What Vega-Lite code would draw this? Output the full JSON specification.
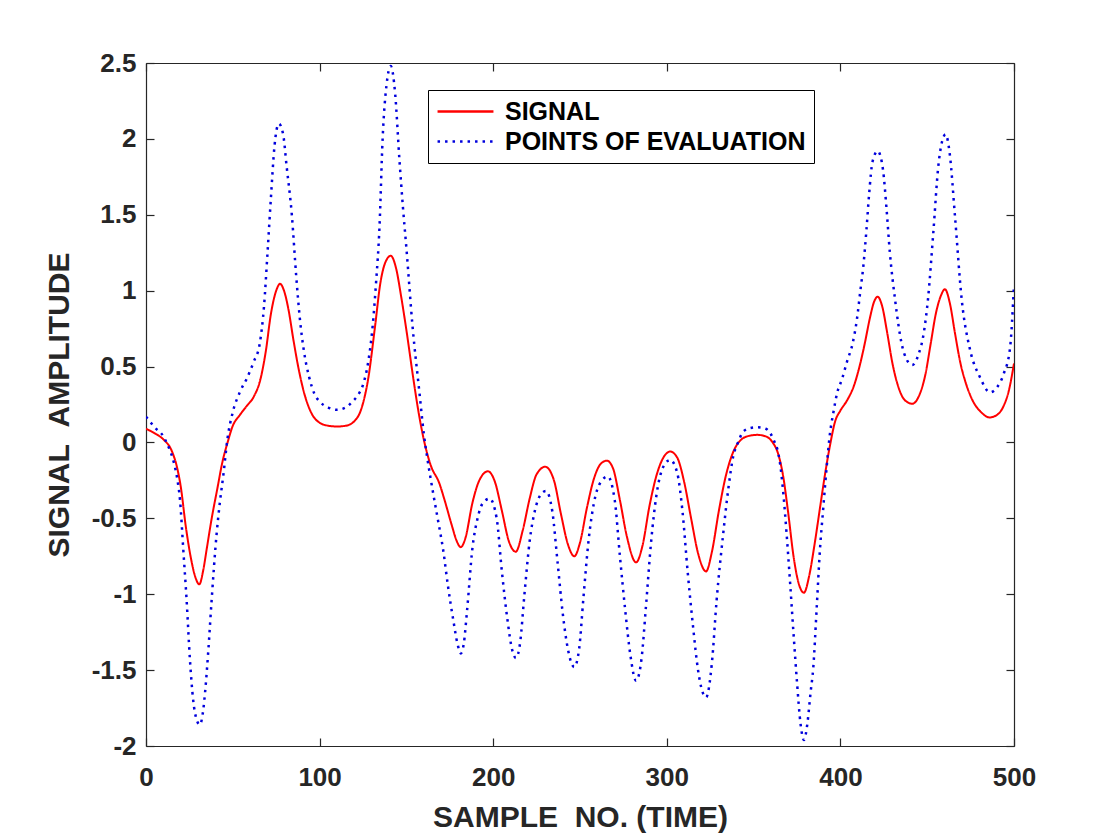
{
  "$schema": "https://vega.github.io/schema/vega-lite/v6.json",
  "width": 868,
  "height": 683,
  "autosize": {"type": "none"},
  "padding": {"left": 146, "top": 63, "right": 106, "bottom": 94},
  "background": "white",
  "config": {
    "view": {"stroke": null},
    "font": "Liberation Sans",
    "axis": {
      "grid": false,
      "domainColor": "#262626",
      "domainWidth": 1.2,
      "tickColor": "#262626",
      "tickWidth": 1.2,
      "tickSize": -8,
      "labelFlush": false,
      "labelFont": "Liberation Sans",
      "labelFontWeight": "bold",
      "labelFontSize": 26,
      "labelColor": "#262626",
      "titleFont": "Liberation Sans",
      "titleFontWeight": "bold",
      "titleFontSize": 30,
      "titleColor": "#262626"
    },
    "legend": {
      "title": null,
      "orient": "none",
      "legendX": 282,
      "legendY": 27,
      "direction": "vertical",
      "symbolType": "M-2.33,0H2.33",
      "symbolSize": 576,
      "symbolOffset": 16,
      "symbolStrokeWidth": 2.5,
      "labelFont": "Liberation Sans",
      "labelFontWeight": "bold",
      "labelFontSize": 25,
      "labelLimit": 500,
      "labelColor": "black",
      "labelOffset": 26,
      "rowPadding": 3,
      "padding": 8,
      "strokeColor": "black",
      "fillColor": "white"
    }
  },
  "data": {
    "values": [
      {"s": "SIGNAL", "x": 0, "y": 0.09},
      {"s": "SIGNAL", "x": 5, "y": 0.06},
      {"s": "SIGNAL", "x": 10, "y": 0.02},
      {"s": "SIGNAL", "x": 15, "y": -0.06},
      {"s": "SIGNAL", "x": 18, "y": -0.17},
      {"s": "SIGNAL", "x": 20, "y": -0.29},
      {"s": "SIGNAL", "x": 23, "y": -0.56},
      {"s": "SIGNAL", "x": 26, "y": -0.77},
      {"s": "SIGNAL", "x": 28.5, "y": -0.89},
      {"s": "SIGNAL", "x": 30.7, "y": -0.935},
      {"s": "SIGNAL", "x": 33, "y": -0.84},
      {"s": "SIGNAL", "x": 35, "y": -0.7},
      {"s": "SIGNAL", "x": 38, "y": -0.49},
      {"s": "SIGNAL", "x": 41, "y": -0.31},
      {"s": "SIGNAL", "x": 44, "y": -0.13},
      {"s": "SIGNAL", "x": 47, "y": 0.0},
      {"s": "SIGNAL", "x": 50, "y": 0.11},
      {"s": "SIGNAL", "x": 54, "y": 0.18},
      {"s": "SIGNAL", "x": 58, "y": 0.24},
      {"s": "SIGNAL", "x": 62, "y": 0.3},
      {"s": "SIGNAL", "x": 66, "y": 0.42},
      {"s": "SIGNAL", "x": 69, "y": 0.6},
      {"s": "SIGNAL", "x": 72, "y": 0.85},
      {"s": "SIGNAL", "x": 75, "y": 1.0},
      {"s": "SIGNAL", "x": 77.2, "y": 1.045},
      {"s": "SIGNAL", "x": 79.5, "y": 1.0},
      {"s": "SIGNAL", "x": 82, "y": 0.88},
      {"s": "SIGNAL", "x": 85, "y": 0.67},
      {"s": "SIGNAL", "x": 88, "y": 0.48},
      {"s": "SIGNAL", "x": 91, "y": 0.33},
      {"s": "SIGNAL", "x": 95, "y": 0.2},
      {"s": "SIGNAL", "x": 100, "y": 0.13},
      {"s": "SIGNAL", "x": 105, "y": 0.11},
      {"s": "SIGNAL", "x": 110, "y": 0.105},
      {"s": "SIGNAL", "x": 115, "y": 0.11},
      {"s": "SIGNAL", "x": 120, "y": 0.14},
      {"s": "SIGNAL", "x": 124, "y": 0.22},
      {"s": "SIGNAL", "x": 128, "y": 0.42},
      {"s": "SIGNAL", "x": 132, "y": 0.77},
      {"s": "SIGNAL", "x": 135, "y": 1.05},
      {"s": "SIGNAL", "x": 138, "y": 1.19},
      {"s": "SIGNAL", "x": 141, "y": 1.23},
      {"s": "SIGNAL", "x": 144, "y": 1.15},
      {"s": "SIGNAL", "x": 147, "y": 0.96},
      {"s": "SIGNAL", "x": 150, "y": 0.74},
      {"s": "SIGNAL", "x": 154, "y": 0.42},
      {"s": "SIGNAL", "x": 157, "y": 0.2},
      {"s": "SIGNAL", "x": 160, "y": 0.02},
      {"s": "SIGNAL", "x": 164, "y": -0.15},
      {"s": "SIGNAL", "x": 169, "y": -0.27},
      {"s": "SIGNAL", "x": 172, "y": -0.38},
      {"s": "SIGNAL", "x": 176, "y": -0.54},
      {"s": "SIGNAL", "x": 179, "y": -0.65},
      {"s": "SIGNAL", "x": 181.3, "y": -0.69},
      {"s": "SIGNAL", "x": 184, "y": -0.63},
      {"s": "SIGNAL", "x": 188, "y": -0.4},
      {"s": "SIGNAL", "x": 192, "y": -0.25},
      {"s": "SIGNAL", "x": 197, "y": -0.19},
      {"s": "SIGNAL", "x": 201, "y": -0.26},
      {"s": "SIGNAL", "x": 205, "y": -0.45},
      {"s": "SIGNAL", "x": 209, "y": -0.65},
      {"s": "SIGNAL", "x": 213, "y": -0.72},
      {"s": "SIGNAL", "x": 217, "y": -0.58},
      {"s": "SIGNAL", "x": 221, "y": -0.37},
      {"s": "SIGNAL", "x": 225, "y": -0.21},
      {"s": "SIGNAL", "x": 230, "y": -0.16},
      {"s": "SIGNAL", "x": 235, "y": -0.25},
      {"s": "SIGNAL", "x": 239, "y": -0.47},
      {"s": "SIGNAL", "x": 243, "y": -0.67},
      {"s": "SIGNAL", "x": 246.7, "y": -0.75},
      {"s": "SIGNAL", "x": 250, "y": -0.66},
      {"s": "SIGNAL", "x": 254, "y": -0.43},
      {"s": "SIGNAL", "x": 258, "y": -0.24},
      {"s": "SIGNAL", "x": 262, "y": -0.14},
      {"s": "SIGNAL", "x": 265.5, "y": -0.12},
      {"s": "SIGNAL", "x": 269, "y": -0.17},
      {"s": "SIGNAL", "x": 273, "y": -0.38},
      {"s": "SIGNAL", "x": 277, "y": -0.62},
      {"s": "SIGNAL", "x": 282.3, "y": -0.79},
      {"s": "SIGNAL", "x": 286, "y": -0.68},
      {"s": "SIGNAL", "x": 290, "y": -0.42},
      {"s": "SIGNAL", "x": 294, "y": -0.22},
      {"s": "SIGNAL", "x": 298, "y": -0.1},
      {"s": "SIGNAL", "x": 302, "y": -0.06},
      {"s": "SIGNAL", "x": 306, "y": -0.1},
      {"s": "SIGNAL", "x": 310, "y": -0.26},
      {"s": "SIGNAL", "x": 314, "y": -0.5},
      {"s": "SIGNAL", "x": 318, "y": -0.73},
      {"s": "SIGNAL", "x": 322.6, "y": -0.85},
      {"s": "SIGNAL", "x": 326, "y": -0.72},
      {"s": "SIGNAL", "x": 330, "y": -0.45},
      {"s": "SIGNAL", "x": 334, "y": -0.22},
      {"s": "SIGNAL", "x": 338, "y": -0.07},
      {"s": "SIGNAL", "x": 343, "y": 0.02},
      {"s": "SIGNAL", "x": 348, "y": 0.045},
      {"s": "SIGNAL", "x": 352, "y": 0.05},
      {"s": "SIGNAL", "x": 357, "y": 0.04},
      {"s": "SIGNAL", "x": 361, "y": 0.0},
      {"s": "SIGNAL", "x": 364, "y": -0.07},
      {"s": "SIGNAL", "x": 367, "y": -0.22},
      {"s": "SIGNAL", "x": 370, "y": -0.47},
      {"s": "SIGNAL", "x": 373, "y": -0.75},
      {"s": "SIGNAL", "x": 376, "y": -0.93},
      {"s": "SIGNAL", "x": 379, "y": -0.99},
      {"s": "SIGNAL", "x": 382, "y": -0.88},
      {"s": "SIGNAL", "x": 385, "y": -0.68},
      {"s": "SIGNAL", "x": 388, "y": -0.45},
      {"s": "SIGNAL", "x": 391, "y": -0.22},
      {"s": "SIGNAL", "x": 394, "y": -0.02},
      {"s": "SIGNAL", "x": 397, "y": 0.14},
      {"s": "SIGNAL", "x": 400, "y": 0.21},
      {"s": "SIGNAL", "x": 404, "y": 0.28},
      {"s": "SIGNAL", "x": 408, "y": 0.38},
      {"s": "SIGNAL", "x": 411, "y": 0.5},
      {"s": "SIGNAL", "x": 414, "y": 0.65},
      {"s": "SIGNAL", "x": 417, "y": 0.82},
      {"s": "SIGNAL", "x": 419.5, "y": 0.93},
      {"s": "SIGNAL", "x": 421.5, "y": 0.96},
      {"s": "SIGNAL", "x": 424, "y": 0.9},
      {"s": "SIGNAL", "x": 427, "y": 0.72},
      {"s": "SIGNAL", "x": 430, "y": 0.52},
      {"s": "SIGNAL", "x": 433, "y": 0.38},
      {"s": "SIGNAL", "x": 437, "y": 0.28},
      {"s": "SIGNAL", "x": 441.4, "y": 0.255},
      {"s": "SIGNAL", "x": 445, "y": 0.3},
      {"s": "SIGNAL", "x": 449, "y": 0.45},
      {"s": "SIGNAL", "x": 452, "y": 0.65},
      {"s": "SIGNAL", "x": 455, "y": 0.85},
      {"s": "SIGNAL", "x": 458, "y": 0.97},
      {"s": "SIGNAL", "x": 460.2, "y": 1.01},
      {"s": "SIGNAL", "x": 463, "y": 0.92},
      {"s": "SIGNAL", "x": 466, "y": 0.72},
      {"s": "SIGNAL", "x": 469, "y": 0.53},
      {"s": "SIGNAL", "x": 472, "y": 0.4},
      {"s": "SIGNAL", "x": 476, "y": 0.28},
      {"s": "SIGNAL", "x": 481, "y": 0.2},
      {"s": "SIGNAL", "x": 486, "y": 0.165},
      {"s": "SIGNAL", "x": 490, "y": 0.18},
      {"s": "SIGNAL", "x": 494, "y": 0.24},
      {"s": "SIGNAL", "x": 497, "y": 0.34},
      {"s": "SIGNAL", "x": 500, "y": 0.52},

      {"s": "POINTS OF EVALUATION", "x": 0, "y": 0.17},
      {"s": "POINTS OF EVALUATION", "x": 5, "y": 0.1},
      {"s": "POINTS OF EVALUATION", "x": 10, "y": 0.04},
      {"s": "POINTS OF EVALUATION", "x": 13, "y": -0.03},
      {"s": "POINTS OF EVALUATION", "x": 16, "y": -0.13},
      {"s": "POINTS OF EVALUATION", "x": 18, "y": -0.24},
      {"s": "POINTS OF EVALUATION", "x": 19.6, "y": -0.38},
      {"s": "POINTS OF EVALUATION", "x": 21.5, "y": -0.71},
      {"s": "POINTS OF EVALUATION", "x": 23.4, "y": -1.04},
      {"s": "POINTS OF EVALUATION", "x": 25.3, "y": -1.43},
      {"s": "POINTS OF EVALUATION", "x": 27.2, "y": -1.7},
      {"s": "POINTS OF EVALUATION", "x": 29, "y": -1.82},
      {"s": "POINTS OF EVALUATION", "x": 31, "y": -1.86},
      {"s": "POINTS OF EVALUATION", "x": 33, "y": -1.76},
      {"s": "POINTS OF EVALUATION", "x": 34, "y": -1.65},
      {"s": "POINTS OF EVALUATION", "x": 35.9, "y": -1.37},
      {"s": "POINTS OF EVALUATION", "x": 37.8, "y": -1.04},
      {"s": "POINTS OF EVALUATION", "x": 40.7, "y": -0.6},
      {"s": "POINTS OF EVALUATION", "x": 42.5, "y": -0.4},
      {"s": "POINTS OF EVALUATION", "x": 44.5, "y": -0.22},
      {"s": "POINTS OF EVALUATION", "x": 47, "y": 0.03},
      {"s": "POINTS OF EVALUATION", "x": 50, "y": 0.2},
      {"s": "POINTS OF EVALUATION", "x": 54, "y": 0.33},
      {"s": "POINTS OF EVALUATION", "x": 58, "y": 0.42},
      {"s": "POINTS OF EVALUATION", "x": 62, "y": 0.53},
      {"s": "POINTS OF EVALUATION", "x": 65.5, "y": 0.65},
      {"s": "POINTS OF EVALUATION", "x": 68, "y": 0.9},
      {"s": "POINTS OF EVALUATION", "x": 70, "y": 1.25},
      {"s": "POINTS OF EVALUATION", "x": 72, "y": 1.62},
      {"s": "POINTS OF EVALUATION", "x": 74, "y": 1.95},
      {"s": "POINTS OF EVALUATION", "x": 76.5, "y": 2.1},
      {"s": "POINTS OF EVALUATION", "x": 79, "y": 2.03},
      {"s": "POINTS OF EVALUATION", "x": 81, "y": 1.82},
      {"s": "POINTS OF EVALUATION", "x": 84, "y": 1.5},
      {"s": "POINTS OF EVALUATION", "x": 86.5, "y": 1.1},
      {"s": "POINTS OF EVALUATION", "x": 88.5, "y": 0.83},
      {"s": "POINTS OF EVALUATION", "x": 91, "y": 0.6},
      {"s": "POINTS OF EVALUATION", "x": 94, "y": 0.43},
      {"s": "POINTS OF EVALUATION", "x": 97, "y": 0.32},
      {"s": "POINTS OF EVALUATION", "x": 100, "y": 0.27},
      {"s": "POINTS OF EVALUATION", "x": 105, "y": 0.23},
      {"s": "POINTS OF EVALUATION", "x": 110, "y": 0.215},
      {"s": "POINTS OF EVALUATION", "x": 115, "y": 0.23},
      {"s": "POINTS OF EVALUATION", "x": 119, "y": 0.27},
      {"s": "POINTS OF EVALUATION", "x": 122, "y": 0.31},
      {"s": "POINTS OF EVALUATION", "x": 125, "y": 0.38},
      {"s": "POINTS OF EVALUATION", "x": 128, "y": 0.53},
      {"s": "POINTS OF EVALUATION", "x": 130.5, "y": 0.76},
      {"s": "POINTS OF EVALUATION", "x": 132.5, "y": 1.05},
      {"s": "POINTS OF EVALUATION", "x": 134.5, "y": 1.42},
      {"s": "POINTS OF EVALUATION", "x": 136.3, "y": 2.0},
      {"s": "POINTS OF EVALUATION", "x": 138.5, "y": 2.35},
      {"s": "POINTS OF EVALUATION", "x": 141, "y": 2.48},
      {"s": "POINTS OF EVALUATION", "x": 143.5, "y": 2.3},
      {"s": "POINTS OF EVALUATION", "x": 146, "y": 1.86},
      {"s": "POINTS OF EVALUATION", "x": 148, "y": 1.55},
      {"s": "POINTS OF EVALUATION", "x": 150, "y": 1.28},
      {"s": "POINTS OF EVALUATION", "x": 153.5, "y": 0.77},
      {"s": "POINTS OF EVALUATION", "x": 157.5, "y": 0.33},
      {"s": "POINTS OF EVALUATION", "x": 160, "y": 0.06},
      {"s": "POINTS OF EVALUATION", "x": 162, "y": -0.1},
      {"s": "POINTS OF EVALUATION", "x": 165.5, "y": -0.34},
      {"s": "POINTS OF EVALUATION", "x": 168, "y": -0.5},
      {"s": "POINTS OF EVALUATION", "x": 171.2, "y": -0.71},
      {"s": "POINTS OF EVALUATION", "x": 174, "y": -0.95},
      {"s": "POINTS OF EVALUATION", "x": 177, "y": -1.17},
      {"s": "POINTS OF EVALUATION", "x": 179.5, "y": -1.33},
      {"s": "POINTS OF EVALUATION", "x": 181.3, "y": -1.39},
      {"s": "POINTS OF EVALUATION", "x": 183, "y": -1.33},
      {"s": "POINTS OF EVALUATION", "x": 185, "y": -1.1},
      {"s": "POINTS OF EVALUATION", "x": 188, "y": -0.7},
      {"s": "POINTS OF EVALUATION", "x": 191, "y": -0.5},
      {"s": "POINTS OF EVALUATION", "x": 194, "y": -0.4},
      {"s": "POINTS OF EVALUATION", "x": 198, "y": -0.37},
      {"s": "POINTS OF EVALUATION", "x": 202, "y": -0.5},
      {"s": "POINTS OF EVALUATION", "x": 205, "y": -0.85},
      {"s": "POINTS OF EVALUATION", "x": 208, "y": -1.15},
      {"s": "POINTS OF EVALUATION", "x": 211, "y": -1.37},
      {"s": "POINTS OF EVALUATION", "x": 213.1, "y": -1.42},
      {"s": "POINTS OF EVALUATION", "x": 215.5, "y": -1.32},
      {"s": "POINTS OF EVALUATION", "x": 218, "y": -1.0},
      {"s": "POINTS OF EVALUATION", "x": 221, "y": -0.65},
      {"s": "POINTS OF EVALUATION", "x": 224, "y": -0.45},
      {"s": "POINTS OF EVALUATION", "x": 227, "y": -0.35},
      {"s": "POINTS OF EVALUATION", "x": 230.4, "y": -0.32},
      {"s": "POINTS OF EVALUATION", "x": 234, "y": -0.45},
      {"s": "POINTS OF EVALUATION", "x": 237, "y": -0.78},
      {"s": "POINTS OF EVALUATION", "x": 240, "y": -1.12},
      {"s": "POINTS OF EVALUATION", "x": 243, "y": -1.36},
      {"s": "POINTS OF EVALUATION", "x": 246.7, "y": -1.48},
      {"s": "POINTS OF EVALUATION", "x": 249.5, "y": -1.36},
      {"s": "POINTS OF EVALUATION", "x": 252, "y": -1.02},
      {"s": "POINTS OF EVALUATION", "x": 255, "y": -0.64},
      {"s": "POINTS OF EVALUATION", "x": 258, "y": -0.4},
      {"s": "POINTS OF EVALUATION", "x": 262, "y": -0.26},
      {"s": "POINTS OF EVALUATION", "x": 266, "y": -0.225},
      {"s": "POINTS OF EVALUATION", "x": 270, "y": -0.38},
      {"s": "POINTS OF EVALUATION", "x": 273, "y": -0.75},
      {"s": "POINTS OF EVALUATION", "x": 276, "y": -1.1},
      {"s": "POINTS OF EVALUATION", "x": 279, "y": -1.4},
      {"s": "POINTS OF EVALUATION", "x": 282.3, "y": -1.57},
      {"s": "POINTS OF EVALUATION", "x": 285.5, "y": -1.42},
      {"s": "POINTS OF EVALUATION", "x": 288, "y": -1.08},
      {"s": "POINTS OF EVALUATION", "x": 291, "y": -0.65},
      {"s": "POINTS OF EVALUATION", "x": 294, "y": -0.35},
      {"s": "POINTS OF EVALUATION", "x": 298, "y": -0.16},
      {"s": "POINTS OF EVALUATION", "x": 302, "y": -0.115},
      {"s": "POINTS OF EVALUATION", "x": 306, "y": -0.2},
      {"s": "POINTS OF EVALUATION", "x": 309, "y": -0.45},
      {"s": "POINTS OF EVALUATION", "x": 312, "y": -0.85},
      {"s": "POINTS OF EVALUATION", "x": 315, "y": -1.2},
      {"s": "POINTS OF EVALUATION", "x": 318, "y": -1.5},
      {"s": "POINTS OF EVALUATION", "x": 322.6, "y": -1.68},
      {"s": "POINTS OF EVALUATION", "x": 326, "y": -1.45},
      {"s": "POINTS OF EVALUATION", "x": 328.7, "y": -1.04},
      {"s": "POINTS OF EVALUATION", "x": 332.5, "y": -0.6},
      {"s": "POINTS OF EVALUATION", "x": 335.5, "y": -0.3},
      {"s": "POINTS OF EVALUATION", "x": 338.3, "y": -0.09},
      {"s": "POINTS OF EVALUATION", "x": 341, "y": 0.0},
      {"s": "POINTS OF EVALUATION", "x": 344, "y": 0.07},
      {"s": "POINTS OF EVALUATION", "x": 348, "y": 0.095},
      {"s": "POINTS OF EVALUATION", "x": 352, "y": 0.1},
      {"s": "POINTS OF EVALUATION", "x": 357, "y": 0.09},
      {"s": "POINTS OF EVALUATION", "x": 361, "y": 0.03},
      {"s": "POINTS OF EVALUATION", "x": 365, "y": -0.12},
      {"s": "POINTS OF EVALUATION", "x": 367, "y": -0.32},
      {"s": "POINTS OF EVALUATION", "x": 369, "y": -0.6},
      {"s": "POINTS OF EVALUATION", "x": 371, "y": -0.92},
      {"s": "POINTS OF EVALUATION", "x": 373, "y": -1.26},
      {"s": "POINTS OF EVALUATION", "x": 375, "y": -1.58},
      {"s": "POINTS OF EVALUATION", "x": 377, "y": -1.85},
      {"s": "POINTS OF EVALUATION", "x": 379, "y": -1.96},
      {"s": "POINTS OF EVALUATION", "x": 381, "y": -1.85},
      {"s": "POINTS OF EVALUATION", "x": 382.8, "y": -1.65},
      {"s": "POINTS OF EVALUATION", "x": 384.4, "y": -1.48},
      {"s": "POINTS OF EVALUATION", "x": 386.3, "y": -1.1},
      {"s": "POINTS OF EVALUATION", "x": 388.2, "y": -0.71},
      {"s": "POINTS OF EVALUATION", "x": 390, "y": -0.45},
      {"s": "POINTS OF EVALUATION", "x": 392.1, "y": -0.16},
      {"s": "POINTS OF EVALUATION", "x": 394, "y": 0.06},
      {"s": "POINTS OF EVALUATION", "x": 396, "y": 0.2},
      {"s": "POINTS OF EVALUATION", "x": 398, "y": 0.32},
      {"s": "POINTS OF EVALUATION", "x": 401, "y": 0.42},
      {"s": "POINTS OF EVALUATION", "x": 404, "y": 0.54},
      {"s": "POINTS OF EVALUATION", "x": 407, "y": 0.65},
      {"s": "POINTS OF EVALUATION", "x": 409.5, "y": 0.81},
      {"s": "POINTS OF EVALUATION", "x": 411.5, "y": 1.0},
      {"s": "POINTS OF EVALUATION", "x": 413.2, "y": 1.16},
      {"s": "POINTS OF EVALUATION", "x": 415, "y": 1.4},
      {"s": "POINTS OF EVALUATION", "x": 416.5, "y": 1.63},
      {"s": "POINTS OF EVALUATION", "x": 418.5, "y": 1.85},
      {"s": "POINTS OF EVALUATION", "x": 421.5, "y": 1.92},
      {"s": "POINTS OF EVALUATION", "x": 424.5, "y": 1.8},
      {"s": "POINTS OF EVALUATION", "x": 426.5, "y": 1.55},
      {"s": "POINTS OF EVALUATION", "x": 428.5, "y": 1.25},
      {"s": "POINTS OF EVALUATION", "x": 431.5, "y": 0.94},
      {"s": "POINTS OF EVALUATION", "x": 435.3, "y": 0.65},
      {"s": "POINTS OF EVALUATION", "x": 438, "y": 0.55},
      {"s": "POINTS OF EVALUATION", "x": 441.4, "y": 0.51},
      {"s": "POINTS OF EVALUATION", "x": 445, "y": 0.58},
      {"s": "POINTS OF EVALUATION", "x": 448, "y": 0.72},
      {"s": "POINTS OF EVALUATION", "x": 450.5, "y": 0.95},
      {"s": "POINTS OF EVALUATION", "x": 453.5, "y": 1.38},
      {"s": "POINTS OF EVALUATION", "x": 456.4, "y": 1.82},
      {"s": "POINTS OF EVALUATION", "x": 458.5, "y": 1.98},
      {"s": "POINTS OF EVALUATION", "x": 460.6, "y": 2.03},
      {"s": "POINTS OF EVALUATION", "x": 463, "y": 1.9},
      {"s": "POINTS OF EVALUATION", "x": 466, "y": 1.49},
      {"s": "POINTS OF EVALUATION", "x": 469.9, "y": 0.94},
      {"s": "POINTS OF EVALUATION", "x": 474.7, "y": 0.61},
      {"s": "POINTS OF EVALUATION", "x": 480.4, "y": 0.43},
      {"s": "POINTS OF EVALUATION", "x": 486.2, "y": 0.33},
      {"s": "POINTS OF EVALUATION", "x": 490, "y": 0.36},
      {"s": "POINTS OF EVALUATION", "x": 494, "y": 0.45},
      {"s": "POINTS OF EVALUATION", "x": 497.7, "y": 0.62},
      {"s": "POINTS OF EVALUATION", "x": 500, "y": 1.04}
    ]
  },
  "layer": [
    {
      "transform": [{"filter": "datum.s === 'SIGNAL'"}],
      "mark": {"type": "line", "interpolate": "monotone", "strokeWidth": 2, "clip": true},
      "encoding": {
        "x": {
          "field": "x", "type": "quantitative",
          "scale": {"domain": [0, 500], "nice": false, "zero": false},
          "axis": {
            "orient": "bottom", "title": "SAMPLE\u00a0\u00a0NO. (TIME)",
            "values": [0, 100, 200, 300, 400, 500],
            "labelExpr": "'' + datum.value",
            "labelPadding": 26, "titlePadding": 12
          }
        },
        "y": {
          "field": "y", "type": "quantitative",
          "scale": {"domain": [-2, 2.5], "nice": false, "zero": false},
          "axis": {
            "orient": "left", "title": "SIGNAL\u00a0\u00a0AMPLITUDE",
            "values": [-2, -1.5, -1, -0.5, 0, 0.5, 1, 1.5, 2, 2.5],
            "labelExpr": "'' + datum.value",
            "labelPadding": 18, "titlePadding": 17
          }
        },
        "color": {
          "field": "s", "type": "nominal",
          "scale": {"domain": ["SIGNAL", "POINTS OF EVALUATION"], "range": ["#ff0000", "#0000dd"]}
        },
        "strokeDash": {
          "field": "s", "type": "nominal",
          "scale": {"domain": ["SIGNAL", "POINTS OF EVALUATION"], "range": [[1, 0], [2.5, 5]]}
        }
      }
    },
    {
      "transform": [{"filter": "datum.s === 'POINTS OF EVALUATION'"}],
      "mark": {"type": "line", "interpolate": "monotone", "strokeWidth": 2.5, "clip": true},
      "encoding": {
        "x": {
          "field": "x", "type": "quantitative",
          "axis": {"orient": "top", "title": null, "labels": false, "values": [0, 100, 200, 300, 400, 500]}
        },
        "y": {
          "field": "y", "type": "quantitative",
          "axis": {"orient": "right", "title": null, "labels": false, "values": [-2, -1.5, -1, -0.5, 0, 0.5, 1, 1.5, 2, 2.5]}
        },
        "color": {"field": "s", "type": "nominal"},
        "strokeDash": {"field": "s", "type": "nominal"}
      }
    }
  ],
  "resolve": {"axis": {"x": "independent", "y": "independent"}}
}
